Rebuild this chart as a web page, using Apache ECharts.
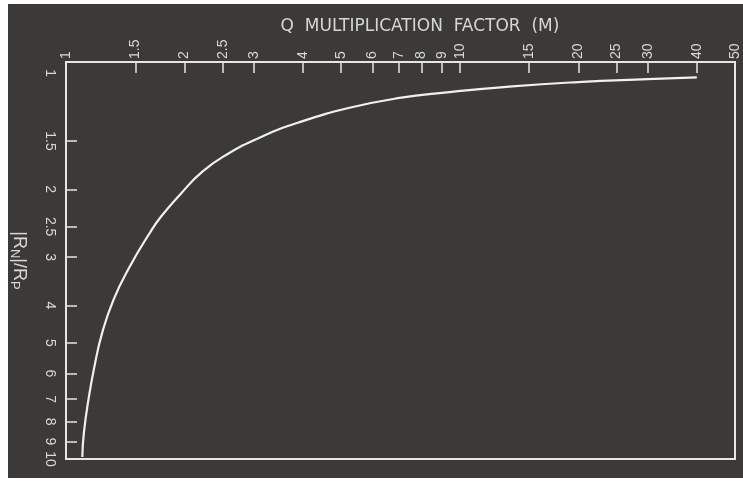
<!DOCTYPE html>
<html>
<head>
<meta charset="utf-8">
<script src="https://cdn.jsdelivr.net/npm/echarts@6/dist/echarts.min.js"></script>
<style>
html,body{margin:0;padding:0;background:#ffffff;}
#c{width:743px;height:482px;}
</style>
</head>
<body>
<div id="c"></div>
<script>
// Q multiplication factor (x, top axis) vs |Rn|/Rp (y, left axis, increasing downward)
const mValues = [40, 30, 20, 13.6, 9.27, 7.03, 5.25, 3.92, 3.10, 2.55, 2.22, 1.96, 1.74, 1.63, 1.45, 1.32, 1.235, 1.18, 1.14, 1.11, 1.10];
const rValues = [1.026, 1.037, 1.055, 1.082, 1.122, 1.16, 1.23, 1.34, 1.47, 1.63, 1.80, 2.05, 2.36, 2.60, 3.18, 3.87, 4.72, 5.78, 7.03, 8.57, 9.88];
const mLabels = [1, 1.5, 2, 2.5, 3, 4, 5, 6, 7, 8, 9, 10, 15, 20, 25, 30, 40, 50];
const mTicks = [1.5, 2, 2.5, 3, 4, 5, 6, 7, 8, 9, 10, 15, 20, 25, 30, 40];
const rLabels = [1, 1.5, 2, 2.5, 3, 4, 5, 6, 7, 8, 9, 10];
const rTicks = [1.5, 2, 2.5, 3, 4, 5, 6, 7, 8, 9];
const xTitle = 'Q  MULTIPLICATION  FACTOR  (M)';

const ink = '#e6e6e6';
const labelFont = {color: '#d8d8d8', fontSize: 14, fontFamily: 'Liberation Sans'};

const chart = echarts.init(document.getElementById('c'), null, {renderer: 'canvas'});
chart.setOption({
  animation: false,
  backgroundColor: '#ffffff',
  graphic: [
    {type: 'rect', z: -10, shape: {x: 8, y: 4, width: 735, height: 474}, style: {fill: '#3b3a38'}},
    {type: 'text', z: 10, x: 420, y: 27,
      style: {text: xTitle, fill: '#d6d6d6', font: '17px "DejaVu Sans"', textAlign: 'center', textVerticalAlign: 'middle'}}
  ],
  grid: {left: 66, right: 8, top: 62, bottom: 23, show: true, borderColor: ink, borderWidth: 2, backgroundColor: 'transparent'},
  xAxis: {
    type: 'log', position: 'top', min: 1, max: 50, logBase: 10,
    axisLine: {show: true, lineStyle: {color: ink, width: 2}},
    axisTick: {show: true, inside: true, length: 11, customValues: mTicks, lineStyle: {color: ink, width: 1.5}},
    axisLabel: Object.assign({show: true, rotate: -90, margin: 3, customValues: mLabels, hideOverlap: false}, labelFont),
    splitLine: {show: false}, minorTick: {show: false}
  },
  yAxis: {
    type: 'log', inverse: true, min: 0.936, max: 10, logBase: 10,
    name: '{a||R}{s|N}{a||/R}{s|P}', nameLocation: 'middle', nameRotate: -90, nameGap: 36,
    nameTextStyle: {rich: {
      a: {fontSize: 18, color: '#d8d8d8', fontFamily: 'Liberation Sans'},
      s: {fontSize: 13, color: '#d8d8d8', fontFamily: 'Liberation Sans', verticalAlign: 'bottom', padding: [9, 0, 0, 0]}
    }},
    axisLine: {show: true, lineStyle: {color: ink, width: 2}},
    axisTick: {show: true, inside: true, length: 11, customValues: rTicks, lineStyle: {color: ink, width: 1.5}},
    axisLabel: Object.assign({show: true, rotate: -90, margin: 9, customValues: rLabels, hideOverlap: false}, labelFont),
    splitLine: {show: false}, minorTick: {show: false}
  },
  series: [{
    type: 'line',
    data: mValues.map((m, i) => [m, rValues[i]]),
    smooth: 0.5,
    showSymbol: false,
    lineStyle: {color: '#f0f0f0', width: 2.2},
    z: 5
  }]
});
</script>
</body>
</html>
